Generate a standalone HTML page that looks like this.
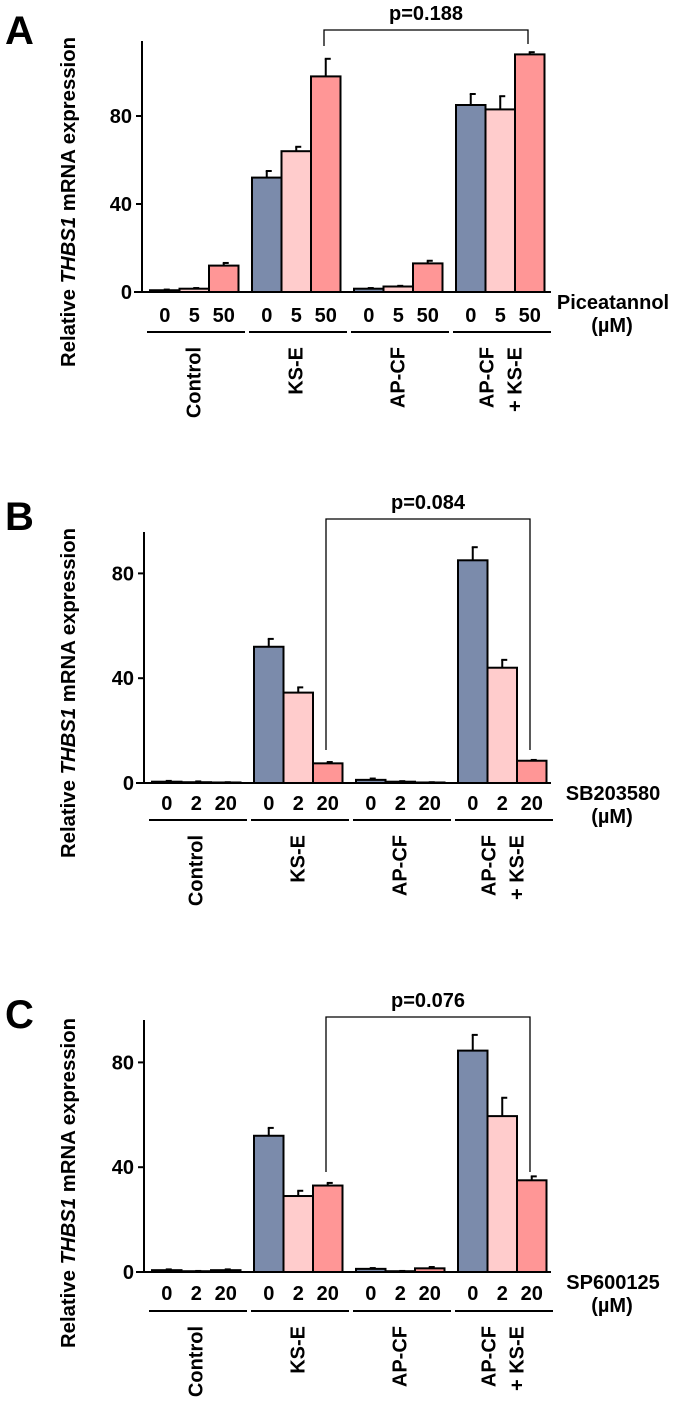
<!DOCTYPE html>
<html><head><meta charset="utf-8">
<style>
html,body{margin:0;padding:0;background:#fff;}
svg{display:block;font-family:"Liberation Sans",Arial,sans-serif;font-weight:bold;}
</style></head>
<body>
<svg id="fig" width="675" height="1402" viewBox="0 0 675 1402"></svg>
<script>
// ---- data ----
const groups = ["Control", "KS-E", "AP-CF", "AP-CF + KS-E"];
const doseA = ["0", "5", "50"];
const doseB = ["0", "2", "20"];
const doseC = ["0", "2", "20"];
const valuesA = [0.8, 1.5, 12, 52, 64, 98, 1.5, 2.5, 13, 85, 83, 108];
const errorsA = [0.3, 0.3, 1.2, 3, 2, 8, 0.3, 0.3, 1.2, 5, 6, 1];
const valuesB = [0.5, 0.3, 0.2, 52, 34.5, 7.5, 1.2, 0.5, 0.2, 85, 44, 8.5];
const errorsB = [0.3, 0.3, 0.1, 3, 2, 0.5, 0.5, 0.2, 0.1, 5, 3, 0.3];
const valuesC = [0.7, 0.3, 0.7, 52, 29, 33, 1.2, 0.3, 1.4, 84.5, 59.5, 35];
const errorsC = [0.3, 0.1, 0.3, 3, 2, 1, 0.3, 0.1, 0.5, 6, 7, 1.5];
const yTicks = ["0", "40", "80"];
const pA = "p=0.188", pB = "p=0.084", pC = "p=0.076";

const NS = "http://www.w3.org/2000/svg";
const svg = document.getElementById("fig");
const colors = ["#7b8bab", "#ffcccc", "#ff9696"];
function mk(tag, attrs, parent){
  const e = document.createElementNS(NS, tag);
  for (const k in attrs) e.setAttribute(k, attrs[k]);
  (parent || svg).appendChild(e);
  return e;
}
function txt(s, attrs, parent){ const t = mk("text", attrs, parent); t.textContent = s; return t; }

function panel(o){
  const g = mk("g", {});
  
  
  const y = v => o.y0 - v * o.scale;
  const xBar = i => o.xStart + Math.floor(i/3) * o.groupStep + (i%3) * o.barW;
  const L = txt(o.letter, {x: 5, y: o.letterY, "font-size": 40}, g);
  
  
  const yt = mk("text", {x: 0, y: 0, "font-size": 20, "text-anchor": "middle", textLength: 330, lengthAdjust: "spacingAndGlyphs",
    transform: `translate(75,${o.titleY}) rotate(-90)`}, g);
  
  
  yt.innerHTML = 'Relative <tspan font-style="italic">THBS1</tspan> mRNA expression';
  o.values.forEach((v, i) => {
    const x = xBar(i);
    const top = y(v + o.errors[i]);
    const el = mk("line", {x1: x + o.barW/2, x2: x + o.barW/2, y1: y(v), y2: top, stroke: "#000", "stroke-width": 2}, g);
    
    
    const cap = mk("line", {x1: x + o.barW/2 - 1, x2: x + o.barW/2 + 5, y1: top, y2: top, stroke: "#000", "stroke-width": 2}, g);
    
    
    const r = mk("rect", {x: x, y: y(v), width: o.barW, height: o.y0 - y(v), fill: colors[i%3], stroke: "#000", "stroke-width": 2}, g);
    
    
  });
  const ya = mk("line", {x1: o.axisX, x2: o.axisX, y1: o.axisTop, y2: o.y0, stroke: "#000", "stroke-width": 2}, g);
  
  
  const xa = mk("line", {x1: o.axisX - 8, x2: 551, y1: o.y0, y2: o.y0, stroke: "#000", "stroke-width": 2}, g);
  
  
  yTicks.forEach(t => {
    const tk = mk("line", {x1: o.axisX - 6, x2: o.axisX, y1: y(+t), y2: y(+t), stroke: "#000", "stroke-width": 2}, g);
    
    
    const tl = txt(t, {x: o.axisX - 10, y: y(+t) + 7, "font-size": 20, "text-anchor": "end"}, g);
    
    
  });
  o.values.forEach((v, i) => {
    const d = txt(o.doses[i%3], {x: xBar(i) + o.barW/2, y: o.numY, "font-size": 20, "text-anchor": "middle"}, g);
    
    
  });
  const dt = txt(o.drug, {x: 613, y: o.y0 + 17, "font-size": 20, "text-anchor": "middle"}, g);
  
  
  const du = txt("(µM)", {x: 612, y: o.y0 + 40, "font-size": 20, "text-anchor": "middle"}, g);
  
  
  groups.forEach((name, k) => {
    const x0 = o.xStart - 3 + k * o.groupStep;
    const ul = mk("line", {x1: x0, x2: x0 + o.groupStep - 4, y1: o.lineY, y2: o.lineY, stroke: "#000", "stroke-width": 2}, g);
    
    
    const cx = o.xStart + k * o.groupStep + 1.5 * o.barW;
    const parts = name.indexOf(" + ") > 0 ? ["AP-CF", "+ KS-E"] : [name];
    parts.forEach((p, j) => {
      const off = parts.length === 1 ? 6 : (j === 0 ? -7 : 21);
      const t = txt(p, {x: 0, y: 0, "font-size": 20, "text-anchor": "end",
        transform: `translate(${cx + off},${o.lineY + 15}) rotate(-90)`}, g);
      
      
    });
  });
  const br = mk("polyline", {points: `${o.brL},${o.brLy} ${o.brL},${o.brY} ${o.brR},${o.brY} ${o.brR},${o.brRy}`, fill: "none", stroke: "#000", "stroke-width": 1.3}, g);
  
  
  const pt = txt(o.p, {x: (o.brL + o.brR)/2, y: o.brY - 10, "font-size": 20, "text-anchor": "middle"}, g);
  
  
}

panel({letter: "A", letterY: 44, values: valuesA, errors: errorsA, doses: doseA, drug: "Piceatannol", p: pA,
  y0: 292, scale: 2.2, axisX: 142, axisTop: 41, xStart: 150, groupStep: 102, barW: 29.5,
  numY: 322, lineY: 332, titleY: 202, brL: 324, brR: 528, brY: 30, brLy: 46, brRy: 44});
panel({letter: "B", letterY: 530, values: valuesB, errors: errorsB, doses: doseB, drug: "SB203580", p: pB,
  y0: 783, scale: 2.62, axisX: 144, axisTop: 532, xStart: 152, groupStep: 102, barW: 29.5,
  numY: 810, lineY: 820, titleY: 693, brL: 326, brR: 530, brY: 519, brLy: 750, brRy: 750});
panel({letter: "C", letterY: 1028, values: valuesC, errors: errorsC, doses: doseC, drug: "SP600125", p: pC,
  y0: 1272, scale: 2.62, axisX: 144, axisTop: 1020, xStart: 152, groupStep: 102, barW: 29.5,
  numY: 1300, lineY: 1311, titleY: 1183, brL: 326, brR: 530, brY: 1017, brLy: 1172, brRy: 1172});
</script>
</body></html>
